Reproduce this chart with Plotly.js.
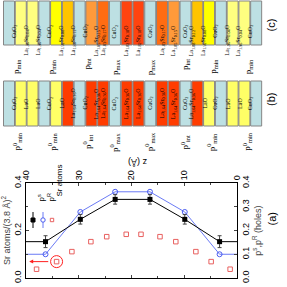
<!DOCTYPE html>
<html><head><meta charset="utf-8">
<script src="https://cdn.plot.ly/plotly-3.0.1.min.js"></script>
<style>html,body{margin:0;padding:0;background:#fff;}#chart{width:287px;height:287px;}</style>
</head><body><div id="chart"></div>
<script>
// ---- data (a) ----
const psZ = [36.3, 29.7, 23.1, 16.5, 9.9, 3.3];
const psVal = [0.153, 0.247, 0.331, 0.331, 0.247, 0.153];
const psErr = [0.025, 0.02, 0.02, 0.02, 0.02, 0.025];
const prZ = [36.3, 29.7, 23.1, 16.5, 9.9, 3.3];
const prVal = [0.10, 0.278, 0.363, 0.363, 0.278, 0.10];
const srZ = [38.0, 34.2, 31.3, 27.7, 24.7, 21.0, 18.2, 14.6, 11.6, 7.8, 4.9, 1.3];
const srVal = [0.037, 0.069, 0.111, 0.153, 0.174, 0.184, 0.184, 0.174, 0.153, 0.111, 0.069, 0.037];
const zTicks = [40, 30, 20, 10, 0];
// ---- layer stacks ----
const C = 'CuO<sub>2</sub>';
const LY = 'La<sub>1.96</sub>Sr<sub>0.04</sub>O', Y = 'La<sub>1.92</sub>Sr<sub>0.08</sub>O', YO = 'La<sub>1.88</sub>Sr<sub>0.12</sub>O',
      O = 'La<sub>1.85</sub>Sr<sub>0.15</sub>O', DO = 'La<sub>1.83</sub>Sr<sub>0.17</sub>O', R = 'La<sub>1.82</sub>Sr<sub>0.18</sub>O';
const cLayers = [C, LY, LY, C, Y, YO, C, O, DO, C, R, R, C, DO, O, C, YO, Y, C, LY, LY, C];
const cColors = ['#bde0e3','#ffff80','#ffff80','#bde0e3','#ffff00','#ffc400','#bde0e3','#ff9a3a','#ff6c12','#bde0e3','#ff4410','#ff4410',
                 '#bde0e3','#ff6c12','#ff9a3a','#bde0e3','#ffc400','#ffff00','#bde0e3','#ffff80','#ffff80','#bde0e3'];
const L0 = 'LaO', RB = 'La<sub>1.64</sub>Sr<sub>0.36</sub>O';
const bLayers = [C, L0, L0, C, L0, RB, C, RB, RB, C, RB, RB, C, RB, RB, C, RB, L0, C, L0, L0, C];
const bColors = ['#bde0e3','#ffff66','#ffff66','#bde0e3','#ffff66','#ff3c00','#bde0e3','#ff3c00','#ff3c00','#bde0e3','#ff3c00','#ff3c00',
                 '#bde0e3','#ff3c00','#ff3c00','#bde0e3','#ff3c00','#ffff66','#bde0e3','#ffff66','#ffff66','#bde0e3'];
const cPLabels = ['p<sub>min</sub>','p<sub>min</sub>','p<sub>int</sub>','p<sub>max</sub>','p<sub>max</sub>','p<sub>int</sub>','p<sub>min</sub>','p<sub>min</sub>'];
const bPLabels = ['p<sup>0</sup><sub>min</sub>','p<sup>0</sup><sub>min</sub>','p<sup>0</sup><sub>int</sub>','p<sup>0</sup><sub>max</sub>','p<sup>0</sup><sub>max</sub>','p<sup>0</sup><sub>int</sub>','p<sup>0</sup><sub>min</sub>','p<sup>0</sup><sub>min</sub>'];

const W = 287, H = 287;
const px = v => v / W, py = v => 1 - v / H;

const traces = [
  {x: srZ, y: srVal, mode: 'markers', yaxis: 'y', type: 'scatter',
   marker: {symbol: 'square-open', size: 4.5, color: '#e8605f', line: {width: 1}}},
  {x: [srZ[1]], y: [srVal[1]], mode: 'markers', yaxis: 'y', type: 'scatter',
   marker: {symbol: 'circle-open', size: 12, color: '#ff2020', line: {width: 1}}},
  {x: [40, ...prZ, 0], y: [prVal[0], ...prVal, prVal[prVal.length-1]], mode: 'lines', yaxis: 'y2',
   line: {color: '#6a7af5', width: 1}},
  {x: prZ, y: prVal, mode: 'markers', yaxis: 'y2',
   marker: {symbol: 'circle-open', size: 5, color: '#4a5cf0', line: {width: 1}}},
  {x: [40, ...psZ, 0], y: [psVal[0], ...psVal, psVal[psVal.length-1]], mode: 'lines', yaxis: 'y2',
   line: {color: '#000', width: 1}},
  {x: psZ, y: psVal, mode: 'markers', yaxis: 'y2',
   error_y: {type: 'data', array: psErr, visible: true, color: '#444', thickness: 1, width: 2},
   marker: {symbol: 'square', size: 5, color: '#000'}}
];

const shapes = [];
const ann = [];
const pitch = 11.77, bx0 = 3.5, bw = 11;
function stack(layers, colors, y0, y1, plabels, ply) {
  let ci = 0;
  layers.forEach((t, i) => {
    const x0 = bx0 + i * pitch, x1 = x0 + bw;
    shapes.push({type: 'rect', xref: 'paper', yref: 'paper', x0: px(x0), x1: px(x1), y0: py(y1), y1: py(y0),
      fillcolor: colors[i], line: {color: '#858585', width: 1}});
    ann.push({xref: 'paper', yref: 'paper', x: px((x0 + x1) / 2), y: py((y0 + y1) / 2), text: t, textangle: -90,
      showarrow: false, font: {family: 'Liberation Serif', size: 6, color: '#000'}});
    if (t === C) {
      ann.push({xref: 'paper', yref: 'paper', x: px((x0 + x1) / 2), y: py(ply), text: plabels[ci++], textangle: -90,
        showarrow: false, font: {family: 'Liberation Serif', size: 9, color: '#000'}});
    }
  });
}
stack(cLayers, cColors, 1, 45, cPLabels, 57);
stack(bLayers, bColors, 81, 126, bPLabels, 142);

// panel letters
[['(a)', 228], ['(b)', 100], ['(c)', 17]].forEach(([t, y]) => ann.push({xref: 'paper', yref: 'paper', x: px(279), y: py(y),
  text: t, textangle: -90, showarrow: false, font: {family: 'Liberation Sans', size: 11, color: '#000'}}));
// z axis title
ann.push({xref: 'paper', yref: 'paper', x: px(138), y: py(162), text: 'z (Å)', textangle: 180, showarrow: false,
  font: {family: 'Liberation Sans', size: 9, color: '#000'}});
// arrow
ann.push({xref: 'x', yref: 'y', x: 39.4, y: srVal[1], axref: 'x', ayref: 'y', ax: 35.5, ay: srVal[1], text: '',
  showarrow: true, arrowhead: 2, arrowsize: 0.8, arrowwidth: 1, arrowcolor: '#ff2020'});
// legend
const leg = [[33, 'p<sup>s</sup>', 204], [43, 'p<sup>R</sup>', 204], [52, 'Sr atoms', 199]];
shapes.push({type: 'line', xref: 'paper', yref: 'paper', x0: px(33), x1: px(33), y0: py(212), y1: py(228), line: {color: '#000', width: 1}});
shapes.push({type: 'rect', xref: 'paper', yref: 'paper', x0: px(31), x1: px(35), y0: py(222), y1: py(218), fillcolor: '#000', line: {color: '#000', width: 1}});
shapes.push({type: 'line', xref: 'paper', yref: 'paper', x0: px(43), x1: px(43), y0: py(212), y1: py(228), line: {color: '#6a7af5', width: 1}});
shapes.push({type: 'circle', xref: 'paper', yref: 'paper', x0: px(40.8), x1: px(45.2), y0: py(222.2), y1: py(217.8), fillcolor: '#fff', line: {color: '#4a5cf0', width: 1}});
shapes.push({type: 'rect', xref: 'paper', yref: 'paper', x0: px(50.3), x1: px(53.7), y0: py(221.7), y1: py(218.3), fillcolor: 'rgba(0,0,0,0)', line: {color: '#e8605f', width: 1}});
leg.forEach(([x, t, y]) => ann.push({xref: 'paper', yref: 'paper', x: px(x), y: py(y), text: t, textangle: -90, showarrow: false,
  font: {family: 'Liberation Sans', size: 8, color: '#000'}}));

const tf = {family: 'Liberation Sans', size: 9, color: '#000'};
const layout = {
  width: W, height: H, margin: {l: 0, r: 0, t: 0, b: 0}, showlegend: false,
  paper_bgcolor: '#fff', plot_bgcolor: '#fff',
  xaxis: {domain: [px(26), px(237)], range: [40, 0], side: 'top', tickvals: zTicks, tickangle: -90, ticks: 'inside', ticklen: 3,
    minor: {dtick: 5, ticks: 'inside', ticklen: 2}, showline: true, linecolor: '#000', linewidth: 1, mirror: 'ticks',
    showgrid: false, zeroline: false, tickfont: tf, automargin: false},
  yaxis: {domain: [1 - 278 / H, 1 - 183 / H], range: [0, 0.4], dtick: 0.2, tickformat: '.1f', tickangle: -90, ticks: 'inside', ticklen: 3,
    minor: {dtick: 0.1, ticks: 'inside', ticklen: 2}, showline: true, linecolor: '#000', linewidth: 1, showgrid: false, zeroline: false,
    tickfont: tf, automargin: false, title: {text: 'Sr atoms/(3.8 Å)<sup>2</sup>', font: {family: 'Liberation Sans', size: 9}, standoff: 4}},
  yaxis2: {overlaying: 'y', side: 'right', range: [0, 0.4], dtick: 0.1, tickformat: '.1f', tickangle: -90, ticks: 'inside', ticklen: 3,
    showline: true, linecolor: '#000', linewidth: 1, showgrid: false, zeroline: false, tickfont: tf, automargin: false,
    title: {text: 'p<sup>s</sup>,p<sup>R</sup> (holes)', font: {family: 'Liberation Sans', size: 9}, standoff: 4}},
  shapes: shapes, annotations: ann
};
Plotly.newPlot('chart', traces, layout, {staticPlot: true, displayModeBar: false});
</script></body></html>
